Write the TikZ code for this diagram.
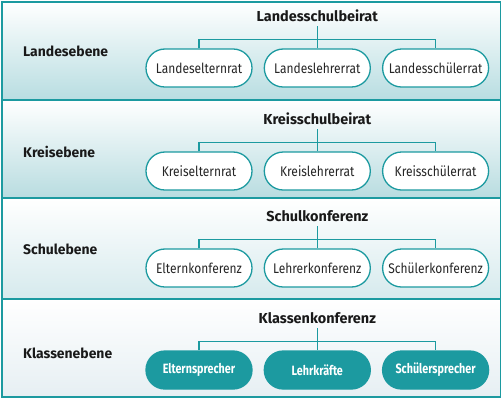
\documentclass[tikz,border=0pt]{standalone}
\usepackage{fontspec}
\setmainfont{Fira Sans}[FakeStretch=0.86]
\newfontfamily\titelfont{Fira Sans}
\newfontfamily\sprecherfont{Fira Sans}[FakeStretch=0.8]
\usetikzlibrary{positioning}
\definecolor{petrol}{HTML}{1C9AA0}
\definecolor{landes}{HTML}{B8DDE1}
\definecolor{kreis}{HTML}{B8DCE0}
\definecolor{schule}{HTML}{D6EAED}
\definecolor{klasse}{HTML}{E6EFF3}

\begin{document}
\begin{tikzpicture}[
    x=1bp, y=-1bp,
    font=\fontsize{14}{16}\selectfont,
    ebene/.style={draw=petrol, line width=1.7bp, top color=white, bottom color=#1},
    rat/.style={draw=petrol, fill=white, line width=1.3bp, rounded corners=18.9bp, minimum width=106bp, minimum height=38bp, inner sep=0pt, text=black!85},
    sprecher/.style={rat, fill=petrol, text=white, font=\sprecherfont\fontsize{13.5}{15}\selectfont\bfseries},
    gremium/.style={font=\titelfont\fontsize{14.5}{16}\selectfont\bfseries, inner sep=4bp, text=black!90},
    stufe/.style={font=\titelfont\fontsize{14}{16}\selectfont\bfseries, anchor=west, inner sep=0pt, text=black!90},
    linie/.style={petrol, line width=1.3bp},
]
    \useasboundingbox (0,0) rectangle (504,400);

    %panels
    \path[ebene=landes] (2,2) rectangle (500.5,100);
    \path[ebene=kreis] (2,100) rectangle (500.5,198);
    \path[ebene=schule] (2,198) rectangle (500.5,299);
    \path[ebene=klasse] (2,299) rectangle (500.5,397);

    %Landesebene
    \node[stufe] (landesebene) at (23,51) {Landesebene};
    \node[rat] (landeseltern) at (199,68) {Landeselternrat};
    \node[rat] (landeslehrer) [right=11bp of landeseltern] {Landeslehrerrat};
    \node[rat] (landesschueler) [right=11bp of landeslehrer] {Landesschülerrat};
    \node[gremium] (landesbeirat) [above=22bp of landeslehrer] {Landesschulbeirat};
    \coordinate[above=9bp of landeslehrer.north] (landesknoten);

    %Kreisebene
    \node[stufe] (kreisebene) at (23,152) {Kreisebene};
    \node[rat] (kreiseltern) at (199,171) {Kreiselternrat};
    \node[rat] (kreislehrer) [right=11bp of kreiseltern] {Kreislehrerrat};
    \node[rat] (kreisschueler) [right=11bp of kreislehrer] {Kreisschülerrat};
    \node[gremium] (kreisbeirat) [above=22bp of kreislehrer] {Kreisschulbeirat};
    \coordinate[above=9bp of kreislehrer.north] (kreisknoten);

    %Schulebene
    \node[stufe] (schulebene) at (23,249) {Schulebene};
    \node[rat] (elternkonf) at (199,268) {Elternkonferenz};
    \node[rat] (lehrerkonf) [right=11bp of elternkonf] {Lehrerkonferenz};
    \node[rat] (schuelerkonf) [right=11bp of lehrerkonf] {Schülerkonferenz};
    \node[gremium] (schulkonf) [above=22bp of lehrerkonf] {Schulkonferenz};
    \coordinate[above=9bp of lehrerkonf.north] (schulknoten);

    %Klassenebene
    \node[stufe] (klassenebene) at (23,353) {Klassenebene};
    \node[sprecher] (elternspr) at (199,370) {Elternsprecher};
    \node[sprecher] (lehrkraefte) [right=11bp of elternspr] {Lehrkräfte};
    \node[sprecher] (schuelerspr) [right=11bp of lehrkraefte] {Schülersprecher};
    \node[gremium] (klassenkonf) [above=22bp of lehrkraefte] {Klassenkonferenz};
    \coordinate[above=9bp of lehrkraefte.north] (klassenknoten);

    %lines
    \draw[linie] (landesbeirat) -- (landeslehrer);
    \draw[linie] (landeseltern) |- (landesknoten) -| (landesschueler);
    \draw[linie] (kreisbeirat) -- (kreislehrer);
    \draw[linie] (kreiseltern) |- (kreisknoten) -| (kreisschueler);
    \draw[linie] (schulkonf) -- (lehrerkonf);
    \draw[linie] (elternkonf) |- (schulknoten) -| (schuelerkonf);
    \draw[linie] (klassenkonf) -- (lehrkraefte);
    \draw[linie] (elternspr) |- (klassenknoten) -| (schuelerspr);
\end{tikzpicture}
\end{document}
